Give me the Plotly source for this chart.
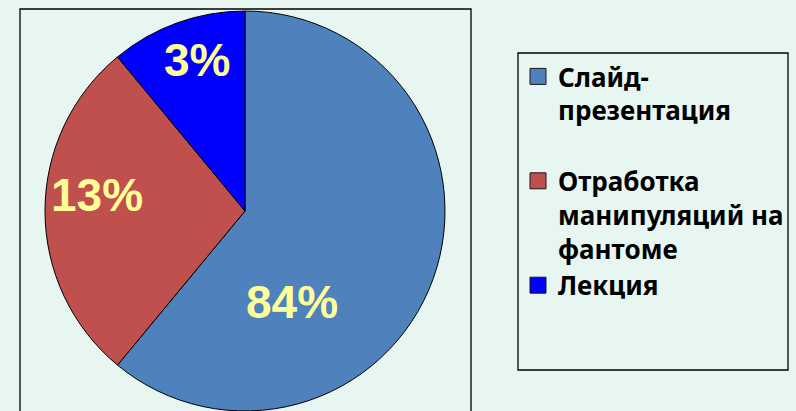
import plotly.graph_objects as go

# Data
categories = ["Слайд-<br>презентация<br> ", "Отработка<br>манипуляций на<br>фантоме", "Лекция"]
slice_values = [61, 28, 11]          # slice sizes as drawn
label_texts = ["84%", "13%", "3%"]   # percentages printed on the slices
colors = ["#4F81BD", "#C0504D", "#0000FF"]

BG = "#E7F6F1"
W, H = 796, 411

fig = go.Figure()
fig.add_trace(go.Pie(
    labels=categories,
    values=slice_values,
    sort=False,
    direction="clockwise",
    rotation=0,
    marker=dict(colors=colors, line=dict(color="#000000", width=1)),
    textinfo="none",
    hoverinfo="label+percent",
    domain=dict(x=[45 / W, 445 / W], y=[0, 400 / H]),
    showlegend=False,
))

# legend entries (square swatches in the slice colours)
for name, c in zip(categories, colors):
    fig.add_trace(go.Scatter(
        x=[None], y=[None], mode="markers", name=name,
        marker=dict(symbol="square", size=16, color=c, line=dict(color="#1a1a1a", width=1)),
        showlegend=True, hoverinfo="skip",
    ))

# label positions (pixels) for the printed percentages
label_pos = [(292, 302), (97, 195), (197, 60)]
for t, (px, py) in zip(label_texts, label_pos):
    fig.add_annotation(
        x=px / W, y=1 - py / H, xref="paper", yref="paper",
        text=f"<b>{t}</b>", showarrow=False,
        font=dict(family="Liberation Sans, Arial, sans-serif", size=46, color="#FFFF99"),
        xanchor="center", yanchor="middle",
    )

# plot-area frame and legend frame
fig.add_shape(type="rect", xref="paper", yref="paper",
              x0=20 / W, x1=471 / W, y0=-0.1, y1=1 - 9 / H,
              line=dict(color="#000000", width=1.3), fillcolor="rgba(0,0,0,0)", layer="below")
fig.add_shape(type="rect", xref="paper", yref="paper",
              x0=518 / W, x1=788 / W, y0=1 - 370 / H, y1=1 - 53 / H,
              line=dict(color="#000000", width=1.3), fillcolor="rgba(0,0,0,0)", layer="below")

fig.update_layout(
    width=W, height=H,
    margin=dict(l=0, r=0, t=0, b=0),
    paper_bgcolor=BG, plot_bgcolor=BG,
    xaxis=dict(visible=False), yaxis=dict(visible=False),
    legend=dict(
        x=518 / W, y=1 - 53 / H, xanchor="left", yanchor="top",
        font=dict(family="Noto Sans, DejaVu Sans, sans-serif", size=26, color="#000000", weight="bold"),
        bgcolor="rgba(0,0,0,0)", borderwidth=0, valign="top",
    ),
)

fig.write_html("out.html", config={"displayModeBar": False},
               post_script="document.body.style.margin='0';")
